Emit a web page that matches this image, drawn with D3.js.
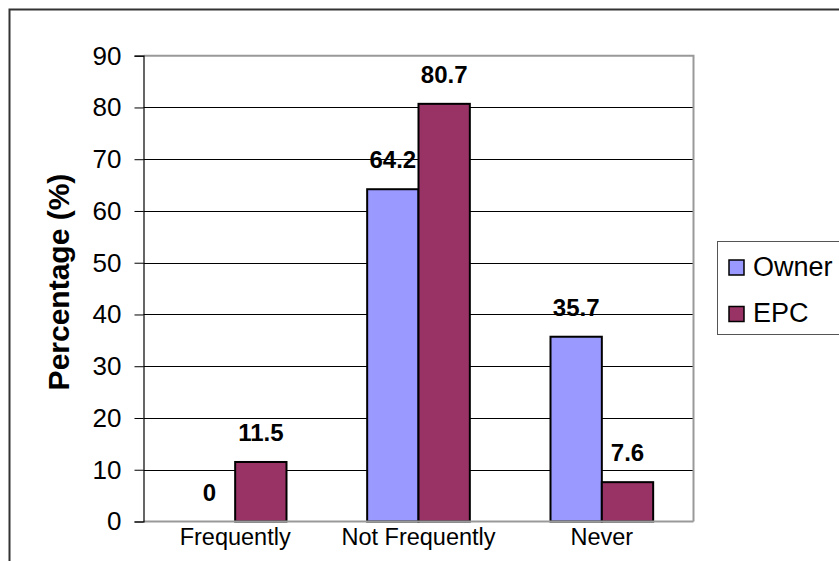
<!DOCTYPE html>
<html>
<head>
<meta charset="utf-8">
<script src="https://cdn.jsdelivr.net/npm/d3@7"></script>
<style>
  html, body { margin: 0; padding: 0; background: #fff; }
  svg { display: block; font-family: Arial, "Liberation Sans", sans-serif; }
</style>
</head>
<body>
<svg id="chart" width="839" height="561"></svg>
<script>
// Survey frequency by respondent group
const categories = ["Frequently", "Not Frequently", "Never"];
const seriesNames = ["Owner", "EPC"];
const ownerValues = [0, 64.2, 35.7];
const epcValues = [11.5, 80.7, 7.6];
const yTicks = [0, 10, 20, 30, 40, 50, 60, 70, 80, 90];
const seriesColors = ["#9999FF", "#993366"];

const seriesValues = [ownerValues, epcValues];
const rows = categories.map((c, i) => ({
  category: c,
  values: seriesNames.map((s, j) => ({ series: s, value: seriesValues[j][i], idx: j }))
}));

const svg = d3.select("#chart");

// outer chart frame (runs past the right and bottom edges)
svg.append("rect")
  .attr("x", 9.5).attr("y", 9.5)
  .attr("width", 1000).attr("height", 1000)
  .attr("fill", "#fff")
  .attr("stroke", "#333").attr("stroke-width", 2);

const plot = { left: 143.5, right: 693.5, top: 55.7, bottom: 521.5 };

const x = d3.scaleBand()
  .domain(categories)
  .range([plot.left, plot.right])
  .paddingInner(0.44)
  .paddingOuter(0.22);

const xInner = d3.scaleBand()
  .domain(seriesNames)
  .range([0, x.bandwidth()]);

const y = d3.scaleLinear()
  .domain([0, 90])
  .range([plot.bottom, plot.top]);

// gridlines
svg.append("g")
  .selectAll("line")
  .data(yTicks.filter(t => t > 0 && t < 90))
  .join("line")
  .attr("x1", plot.left).attr("x2", plot.right)
  .attr("y1", d => Math.round(y(d)) + 0.5).attr("y2", d => Math.round(y(d)) + 0.5)
  .attr("stroke", "#000").attr("stroke-width", 1);

// plot area border (top and right)
svg.append("path")
  .attr("d", `M${plot.left},${y(90)}H${plot.right}V${plot.bottom}`)
  .attr("fill", "none")
  .attr("stroke", "#999").attr("stroke-width", 2);

// bars
const groups = svg.append("g")
  .selectAll("g")
  .data(rows)
  .join("g")
  .attr("transform", d => `translate(${x(d.category)},0)`);

groups.selectAll("rect")
  .data(d => d.values)
  .join("rect")
  .attr("x", d => xInner(d.series))
  .attr("y", d => y(d.value))
  .attr("width", xInner.bandwidth())
  .attr("height", d => y(0) - y(d.value))
  .attr("fill", d => seriesColors[d.idx])
  .attr("stroke", "#000")
  .attr("stroke-width", 2);

// value labels
groups.selectAll("text")
  .data(d => d.values)
  .join("text")
  .attr("x", d => xInner(d.series) + xInner.bandwidth() / 2)
  .attr("y", d => y(d.value) - 21)
  .attr("text-anchor", "middle")
  .attr("font-size", 24)
  .attr("font-weight", "bold")
  .attr("fill", "#000")
  .text(d => d.value);

// x axis baseline
svg.append("line")
  .attr("x1", plot.left).attr("x2", plot.right)
  .attr("y1", y(0)).attr("y2", y(0))
  .attr("stroke", "#999").attr("stroke-width", 2);

// y axis
const yAxis = svg.append("g")
  .attr("transform", `translate(${plot.left},0)`)
  .call(d3.axisLeft(y).tickValues(yTicks).tickSize(9).tickPadding(13).tickFormat(d3.format("d")));
yAxis.select(".domain").attr("stroke", "#000").attr("stroke-width", 1.2);
yAxis.selectAll(".tick line").attr("stroke", "#000");
yAxis.selectAll(".tick text")
  .attr("font-size", 26)
  .attr("font-family", "Arial, 'Liberation Sans', sans-serif")
  .attr("fill", "#000");

// x axis category labels
const xAxis = svg.append("g")
  .attr("transform", `translate(0,${y(0)})`)
  .call(d3.axisBottom(x).tickSize(0).tickPadding(7));
xAxis.select(".domain").remove();
xAxis.selectAll(".tick text")
  .attr("font-size", 23.5)
  .attr("font-family", "Arial, 'Liberation Sans', sans-serif")
  .attr("fill", "#000");

// y axis title
svg.append("text")
  .attr("transform", `translate(69,282) rotate(-90)`)
  .attr("text-anchor", "middle")
  .attr("font-size", 30)
  .attr("font-weight", "bold")
  .attr("fill", "#000")
  .text("Percentage (%)");

// legend
const legend = svg.append("g");
legend.append("rect")
  .attr("x", 717.5).attr("y", 241.5)
  .attr("width", 200).attr("height", 93)
  .attr("fill", "#fff")
  .attr("stroke", "#555").attr("stroke-width", 1);

const legendItems = legend.selectAll("g")
  .data(seriesNames)
  .join("g")
  .attr("transform", (d, i) => `translate(729,${260 + i * 46.5})`);

legendItems.append("rect")
  .attr("width", 15).attr("height", 15)
  .attr("fill", (d, i) => seriesColors[i])
  .attr("stroke", "#000").attr("stroke-width", 1.5);

legendItems.append("text")
  .attr("x", 24).attr("y", 15.5)
  .attr("font-size", 27)
  .attr("fill", "#000")
  .text(d => d);
</script>
</body>
</html>
